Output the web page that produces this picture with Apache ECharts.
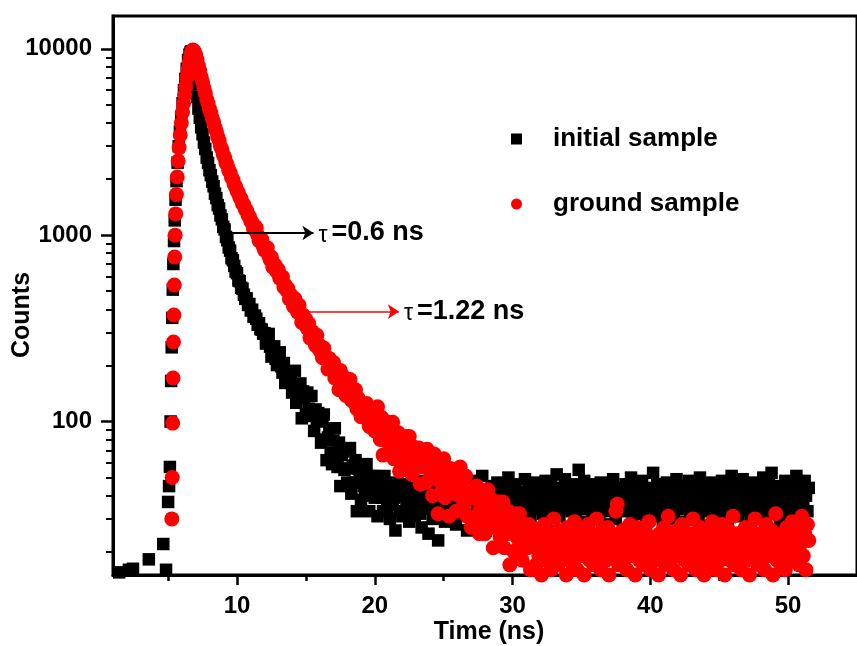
<!DOCTYPE html>
<html>
<head>
<meta charset="utf-8">
<script src="https://cdn.jsdelivr.net/npm/echarts@6/dist/echarts.min.js"></script>
<style>
html,body{margin:0;padding:0;background:#fff;}
#chart{width:857px;height:646px;}
</style>
</head>
<body>
<div id="chart"></div>
<script>
const FONT = '"Liberation Sans", Arial, Helvetica, sans-serif';

const seriesNames = ['initial sample', 'ground sample'];
const axisTitles = ['Time (ns)', 'Counts'];
const xMajorTicks = [10, 20, 30, 40, 50];
const xMinorTicks = [5, 15, 25, 35, 45];
const yMajorTicks = [100, 1000, 10000];
const yMinorTicks = [20, 30, 40, 50, 60, 70, 80, 90, 200, 300, 400, 500, 600, 700, 800, 900, 2000, 3000, 4000, 5000, 6000, 7000, 8000, 9000];

// decay channels: first channel time and channel width (ns)
const channelStartNs = 6.8;
const channelWidthNs = 0.1;

// initial sample: background + rising edge (explicit times)
const initialRiseTime = [1.45, 2.15, 2.45, 3.6, 4.65, 4.85, 5.0, 5.07, 5.13, 5.18, 5.22, 5.26, 5.3, 5.34, 5.38, 5.43, 5.48, 5.54, 5.61, 5.69, 5.77, 5.86, 5.95, 6.05, 6.15, 6.25, 6.35, 6.45, 6.55, 6.63, 6.7];
const initialRiseCounts = [15.5, 16, 16.2, 18.2, 22, 16, 37, 45, 57, 100, 165, 250, 360, 510, 700, 930, 1200, 1550, 1950, 2450, 3000, 3600, 4300, 5100, 6000, 6900, 7800, 8700, 9300, 9600, 9700];

// initial sample: decay channels from 6.8 ns to 51.5 ns
const initialDecayCounts = [
  8800, 7620, 6430, 5520, 4780, 4270, 3790, 3480, 3140, 2900,
  2610, 2440, 2230, 2100, 1940, 1830, 1670, 1580, 1450, 1390,
  1275, 1215, 1108, 1072, 978, 938, 859, 826, 752, 733,
  684, 638, 625, 571, 566, 522, 516, 479, 455, 458,
  422, 427, 394, 398, 365, 370, 356, 330, 337, 313,
  311, 296,
  298, 262, 290, 295, 252, 223, 245, 253, 217, 201, 223, 235, 198, 183, 206, 161, 184, 186, 165, 182,
  143, 158, 187, 126, 157, 135, 160, 104, 145, 134, 109, 143, 117, 107, 137, 115, 89, 116, 101, 111,
  100, 77, 102, 109, 80, 62, 82, 92, 68, 59, 79, 92, 66, 57, 77, 45, 66, 69, 55, 71,
  47, 56, 72, 41, 58, 47, 62, 33, 56, 51, 38, 59, 45, 40, 59, 47, 33, 51, 43, 51,
  39, 50, 31, 44, 47, 39, 33, 51, 40, 34, 43, 30, 47, 36, 39, 26, 43, 40, 33, 46, 31,
  41, 33, 38, 46, 29, 36, 43, 35, 31, 40,
  37, 48, 32, 27, 39, 44, 34, 38, 25, 42,
  36, 30, 45, 39, 33, 23, 41, 37, 47, 34,
  29, 40, 35, 43, 38, 31, 50, 36, 28, 42,
  39, 34, 45, 37, 32, 41, 26, 38, 44, 35,
  48, 33, 40, 36, 30, 43, 37, 51, 34, 39,
  31, 42, 38, 27, 45, 36, 40, 33, 47, 35,
  39, 29, 44, 37, 41, 32, 50, 38, 34, 43,
  36, 46, 31, 40, 28, 38, 42, 35, 49, 33,
  39, 44, 30, 37, 41, 34, 47, 26, 40, 36,
  43, 32, 38, 48, 35, 40, 29, 45, 37, 33,
  41, 52, 36, 31, 44, 38, 34, 49, 40, 27,
  37, 43, 33, 46, 39, 30, 42, 55, 36, 41,
  34, 48, 38, 29, 44, 37, 40, 32, 46, 35,
  39, 43, 31, 47, 36, 41, 28, 38, 45, 33,
  40, 35, 49, 37, 30, 44, 39, 34, 42, 26,
  38, 46, 33, 41, 36, 50, 31, 43, 37, 35,
  45, 32, 39, 48, 34, 40, 29, 44, 38, 36,
  42, 53, 35, 31, 46, 39, 37, 43, 28, 41,
  36, 47, 33, 40, 38, 44, 30, 39, 49, 34,
  41, 37, 45, 29, 43, 35, 40, 48, 32, 38,
  46, 34, 39, 42, 31, 50, 37, 44, 36, 27,
  40, 45, 33, 38, 47, 35, 41, 30, 43, 37,
  32, 48, 39, 36, 44, 28, 42, 38, 51, 34,
  40, 35, 46, 31, 43, 37, 49, 33, 39, 45,
  36, 41, 29, 47, 38, 34, 44, 40, 30, 42,
  37, 50, 35, 43, 32, 46, 39, 53, 36, 41,
  33, 45, 38, 28, 44, 40, 35, 48, 31, 42,
  39, 47, 34, 43, 37, 51, 30, 45, 38, 41,
  35, 48, 40, 33, 44
];

// ground sample: rising edge (explicit times)
const groundRiseTime = [5.27, 5.3, 5.33, 5.36, 5.39, 5.42, 5.45, 5.48, 5.51, 5.55, 5.6, 5.66, 5.73, 5.8, 5.88, 5.96, 6.04, 6.12, 6.2, 6.28, 6.36, 6.44, 6.52, 6.6, 6.68, 6.75];
const groundRiseCounts = [30, 50, 98, 171, 267, 373, 540, 763, 1000, 1300, 1650, 2050, 2500, 2950, 3450, 4000, 4550, 5100, 5650, 6300, 7000, 7700, 8400, 9000, 9500, 9800];

// ground sample: decay channels from 6.8 ns to 51.5 ns
const groundDecayCounts = [
  9850, 9700, 9300, 8740, 8100, 7620, 7050, 6640, 6150, 5780,
  5350, 5090, 4770, 4540, 4250, 4050, 3780, 3610, 3370, 3220,
  3000, 2890, 2710, 2610, 2450, 2370, 2230, 2170, 2040, 1990,
  1870, 1820, 1730, 1685, 1595, 1565, 1475, 1455, 1375, 1355,
  1275, 1260, 1185,
  1170, 1083, 1111, 1094, 1002, 935, 954, 948, 872, 829, 851, 855, 778, 739, 761, 673, 697, 685, 636, 651, 587, 586, 597, 527, 540, 506, 515, 454, 478, 456,
  414, 455, 408, 386, 421, 382, 340, 372, 344, 353, 316, 335, 281, 304, 302, 278, 256, 290, 260, 241, 252, 220, 248, 221, 221, 191, 218, 207, 189, 207,
  171, 186, 189, 148, 188, 159, 162, 172, 138, 159, 144, 168, 130, 142, 127, 148, 117, 133, 126, 106, 122, 107, 122, 125, 106, 94, 106, 112, 95, 89,
  105, 120, 91, 80, 105, 66, 92, 96, 78, 99, 71, 81, 99, 63, 83, 70, 87, 54, 81, 74,
  59, 83, 67, 61, 83, 69, 52, 73, 63, 72, 57, 72, 46, 63, 66, 57, 47, 71, 57, 49,
  61, 40, 67, 49, 54, 32, 60, 55, 43, 63,
  39, 50, 54, 31, 56, 41, 45, 53, 33, 49,
  40, 57, 34, 44, 35, 51, 31, 43, 39, 27,
  39, 29, 41, 45, 32, 25, 35, 40, 29, 25,
  36, 43, 31, 27, 38, 21, 33, 35, 27, 37,
  24, 29, 37, 21, 30, 25, 33, 17, 30, 27,
  20, 32, 24, 21, 32, 25, 18, 28, 23, 28,
  21, 28, 16, 24, 26,
  22, 17, 26, 19, 24, 15, 21, 28, 18, 23,
  20, 25, 16, 22, 30, 19, 23, 17, 26, 21,
  18, 24, 20, 15, 27, 22, 19, 25, 17, 29,
  21, 16, 23, 26, 19, 22, 15, 24, 20, 28,
  18, 25, 21, 17, 23, 30, 19, 22, 16, 26,
  20, 24, 18, 27, 15, 22, 25, 19, 21, 33,
  36, 17, 23, 20, 26, 18, 24, 16, 22, 28,
  19, 25, 21, 15, 23, 27, 18, 20, 24, 17,
  26, 22, 19, 29, 16, 21, 24, 18, 23, 20,
  15, 25, 22, 19, 27, 17, 21, 31, 18, 24,
  20, 16, 23, 26, 19, 22, 15, 28, 21, 18,
  24, 20, 17, 25, 22, 30, 19, 16, 23, 21,
  27, 18, 22, 15, 24, 20, 26, 17, 21, 29,
  19, 23, 16, 25, 21, 18, 28, 22, 15, 24,
  20, 26, 18, 23, 31, 17, 21, 25, 19, 22,
  16, 24, 20, 27, 18, 22, 15, 26, 21, 19,
  30, 23, 17, 25, 20, 18, 24, 16, 28, 22,
  19, 21, 26, 15, 23, 32, 18, 24, 20, 17,
  25, 22, 16, 27, 19, 23, 21, 29, 18, 24,
  20, 26, 17, 22, 31, 19, 25, 16, 28, 23
];

// lifetime annotations (arrow from/to in ns, at a count level)
const tauLabels = ['=0.6 ns', '=1.22 ns'];
const arrowFromNs = [9.25, 14.89];
const arrowToNs = [15.55, 21.75];
const arrowCounts = [1027, 389];

function buildPoints(riseT, riseC, decay) {
  const pts = riseT.map((t, i) => [t, riseC[i]]);
  decay.forEach((c, i) => {
    pts.push([Math.round((channelStartNs + i * channelWidthNs) * 100) / 100, c]);
  });
  return pts;
}

const initialPoints = buildPoints(initialRiseTime, initialRiseCounts, initialDecayCounts);
const groundPoints = buildPoints(groundRiseTime, groundRiseCounts, groundDecayCounts);

function arrowMark(i, color, width) {
  return {
    silent: true,
    symbol: ['none', 'arrow'],
    symbolSize: 11,
    lineStyle: { color: color, width: width, type: 'solid', opacity: 1 },
    itemStyle: { color: color },
    label: {
      show: true,
      position: 'end',
      distance: 5,
      formatter: '{t|\u03c4}{v|' + tauLabels[i] + '}',
      rich: {
        t: { fontFamily: FONT, fontSize: 23, fontWeight: 'normal', color: '#000', padding: [5, 4, 0, 0] },
        v: { fontFamily: FONT, fontSize: 27, fontWeight: 'bold', color: '#000' }
      }
    },
    data: [[{ coord: [arrowFromNs[i], arrowCounts[i]] }, { coord: [arrowToNs[i], arrowCounts[i]] }]]
  };
}

const chart = echarts.init(document.getElementById('chart'), null, { renderer: 'canvas' });
const tickLabelStyle = { fontFamily: FONT, fontSize: 24, fontWeight: 'bold', color: '#000' };

chart.setOption({
  animation: false,
  backgroundColor: '#fff',
  textStyle: { fontFamily: FONT },
  grid: { left: 113, top: 16, right: -22, bottom: 71, show: true, borderColor: '#000', borderWidth: 3 },
  legend: {
    orient: 'vertical',
    left: 506,
    top: 121,
    itemWidth: 11,
    itemHeight: 11,
    itemGap: 39,
    textStyle: { fontFamily: FONT, fontSize: 26, fontWeight: 'bold', color: '#000', padding: [0, 0, 0, 26] },
    data: seriesNames
  },
  xAxis: [{
    type: 'value', min: 1, max: 55, position: 'bottom',
    axisLine: { show: true, onZero: false, lineStyle: { color: '#000', width: 3 } },
    axisTick: { show: true, inside: false, length: 10, customValues: xMajorTicks, lineStyle: { color: '#000', width: 2.5 } },
    axisLabel: Object.assign({ customValues: xMajorTicks, margin: 19 }, tickLabelStyle),
    splitLine: { show: false }
  }, {
    type: 'value', min: 1, max: 55, position: 'bottom',
    axisLine: { show: false },
    axisTick: { show: true, inside: false, length: 6, customValues: xMinorTicks, lineStyle: { color: '#000', width: 2.5 } },
    axisLabel: { show: false },
    splitLine: { show: false }
  }],
  yAxis: [{
    type: 'log', logBase: 10, min: 15, max: 15000, position: 'left',
    axisLine: { show: true, onZero: false, lineStyle: { color: '#000', width: 3 } },
    axisTick: { show: true, inside: false, length: 12, customValues: yMajorTicks, lineStyle: { color: '#000', width: 2.5 } },
    axisLabel: Object.assign({ customValues: yMajorTicks, margin: 21, formatter: v => String(Math.round(v)) }, tickLabelStyle),
    splitLine: { show: false }
  }, {
    type: 'log', logBase: 10, min: 15, max: 15000, position: 'left',
    axisLine: { show: false },
    axisTick: { show: true, inside: false, length: 7, customValues: yMinorTicks, lineStyle: { color: '#000', width: 2 } },
    axisLabel: { show: false },
    splitLine: { show: false }
  }],
  graphic: [
    { type: 'text', position: [489, 632], style: { text: axisTitles[0], fontFamily: FONT, fontSize: 25, fontWeight: 'bold', fill: '#000', align: 'center', verticalAlign: 'middle' } },
    { type: 'text', position: [22, 315], rotation: Math.PI / 2, style: { text: axisTitles[1], fontFamily: FONT, fontSize: 25, fontWeight: 'bold', fill: '#000', align: 'center', verticalAlign: 'middle' } }
  ],
  series: [{
    name: seriesNames[0],
    type: 'scatter',
    symbol: 'rect',
    symbolSize: 12.5,
    itemStyle: { color: '#000', opacity: 1 },
    data: initialPoints,
    z: 2,
    markLine: arrowMark(0, '#000', 2)
  }, {
    name: seriesNames[1],
    type: 'scatter',
    symbol: 'circle',
    symbolSize: 15,
    itemStyle: { color: '#ff0000', opacity: 1 },
    data: groundPoints,
    z: 3,
    markLine: arrowMark(1, '#ff0000', 1.6)
  }]
});
</script>
</body>
</html>
